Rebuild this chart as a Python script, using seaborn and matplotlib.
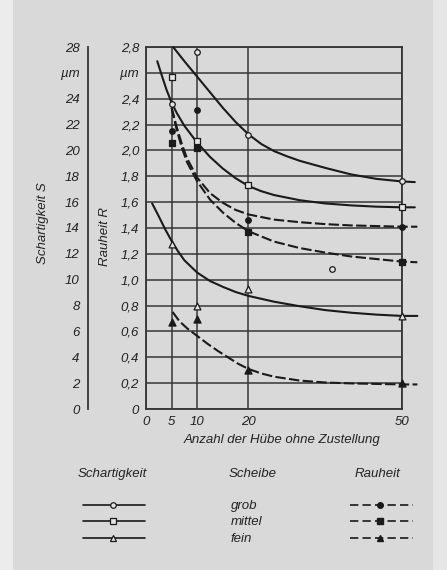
import numpy as np
import pandas as pd
import matplotlib
matplotlib.use("Agg")
import matplotlib.pyplot as plt
import seaborn as sns
from matplotlib.patches import Rectangle

# ---------------- data ----------------
# Schartigkeit S (µm) – fitted curves
s_grob_x = [5.3, 7.5, 10, 12.5, 15, 17.5, 20, 22.5, 25, 27.5, 30, 35, 40, 45, 50, 52.5]
s_grob_y = [28.0, 26.9, 25.7, 24.5, 23.3, 22.2, 21.25, 20.5, 19.95, 19.55, 19.2,
            18.65, 18.15, 17.8, 17.6, 17.55]
s_mittel_x = [2.2, 3, 4, 5, 6, 7.5, 10, 12.5, 15, 17.5, 20, 22.5, 25, 30, 35, 40, 45, 50, 52.5]
s_mittel_y = [26.9, 25.9, 24.7, 23.7, 22.9, 21.9, 20.6, 19.5, 18.6, 17.85, 17.25,
              16.85, 16.55, 16.15, 15.9, 15.75, 15.65, 15.6, 15.6]
s_fein_x = [1.2, 2.5, 3.75, 5, 6.25, 7.5, 10, 12.5, 15, 17.5, 20, 25, 30, 35, 40, 45, 50, 53]
s_fein_y = [15.9, 14.9, 13.9, 13.0, 12.2, 11.5, 10.55, 9.9, 9.45, 9.05, 8.75, 8.3,
            7.95, 7.65, 7.45, 7.3, 7.2, 7.2]

# Schartigkeit S – measured points
s_grob_px = [5, 10, 20, 36.4, 50]
s_grob_py = [23.6, 27.6, 21.2, 10.8, 17.6]
s_mittel_px = [5, 10, 20, 50]
s_mittel_py = [25.7, 20.7, 17.3, 15.65]
s_fein_px = [5, 10, 20, 50]
s_fein_py = [12.75, 8.0, 9.3, 7.2]

# Rauheit R (µm) – fitted curves
r_grob_x = [5, 6, 7, 8, 10, 12.5, 15, 17.5, 20, 25, 30, 35, 40, 50, 53]
r_grob_y = [2.33, 2.18, 2.05, 1.94, 1.79, 1.67, 1.595, 1.54, 1.505, 1.465, 1.445,
            1.43, 1.42, 1.41, 1.41]
r_mittel_x = [5, 6, 7, 8, 10, 12.5, 15, 17.5, 20, 25, 30, 35, 40, 45, 50, 53]
r_mittel_y = [2.33, 2.16, 2.02, 1.91, 1.76, 1.62, 1.52, 1.44, 1.375, 1.295, 1.245,
              1.21, 1.18, 1.16, 1.14, 1.135]
r_fein_x = [5.2, 6.5, 8, 10, 12, 14, 16, 18, 20, 22.5, 25, 30, 35, 40, 50, 53]
r_fein_y = [0.75, 0.68, 0.625, 0.565, 0.505, 0.45, 0.40, 0.35, 0.31, 0.275, 0.25,
            0.22, 0.205, 0.198, 0.19, 0.19]

# Rauheit R – measured points
r_grob_px = [5, 10, 20, 50]
r_grob_py = [2.15, 2.31, 1.46, 1.41]
r_mittel_px = [5, 10, 20, 50]
r_mittel_py = [2.06, 2.02, 1.37, 1.14]
r_fein_px = [5, 10, 20, 50]
r_fein_py = [0.675, 0.70, 0.30, 0.20]

x_ticks = [0, 5, 10, 20, 50]
r_ticks = [round(0.2 * i, 1) for i in range(15)]
r_ticklabels = ["0", "0,2", "0,4", "0,6", "0,8", "1,0", "1,2", "1,4", "1,6",
                "1,8", "2,0", "2,2", "2,4", "µm", "2,8"]
s_ticks = list(range(0, 29, 2))
s_ticklabels = ["0", "2", "4", "6", "8", "10", "12", "14", "16", "18", "20",
                "22", "24", "µm", "28"]
legend_rows = ["grob", "mittel", "fein"]

# ---------------- style ----------------
sns.set_style("white")
plt.rcParams["font.family"] = ["Liberation Sans", "DejaVu Sans"]
plt.rcParams["font.style"] = "italic"
TXT = "#222222"
INK = "#1a1a1a"
GRID = "#363636"
BG = "#d9d9d9"
FS = 9.5

W, H = 447, 570
fig = plt.figure(figsize=(W / 100, H / 100), dpi=100, facecolor=BG)

# background decoration (light scan margins)
bgax = fig.add_axes([0, 0, 1, 1], zorder=-10)
bgax.set_xlim(0, W)
bgax.set_ylim(H, 0)
bgax.axis("off")
bgax.add_patch(Rectangle((0, 0), 13, H, color="#ececec", lw=0))
bgax.add_patch(Rectangle((433, 0), 14, H, color="#e6e6e6", lw=0))

L, R_, B, T = 146, 402, 409, 47
ax = fig.add_axes([L / W, 1 - B / H, (R_ - L) / W, (B - T) / H])
ax.set_facecolor("none")
ax.set_xlim(0, 50)
ax.set_ylim(0, 2.8)
ax.set_xticks(x_ticks)
ax.set_xticklabels([str(v) for v in x_ticks], fontsize=FS, color=TXT)
ax.set_yticks(r_ticks)
ax.set_yticklabels(r_ticklabels, fontsize=FS, color=TXT)
ax.tick_params(axis="both", length=0)
ax.tick_params(axis="y", pad=5)
ax.tick_params(axis="x", pad=5)
ax.grid(True, color=GRID, lw=1.1)
for sp in ax.spines.values():
    sp.set_visible(True)
    sp.set_color(GRID)
    sp.set_linewidth(1.3)

# twin axis for Schartigkeit data (S = 10 * R scale)
axs = ax.twinx()
axs.set_ylim(0, 28)
for sp in axs.spines.values():
    sp.set_visible(False)
axs.set_facecolor("none")

lw = 1.5
dash = (5, 1.6)

def curve(a, xs, ys, dashed):
    df = pd.DataFrame({"x": xs, "y": ys})
    sns.lineplot(data=df, x="x", y="y", ax=a, color=INK, lw=lw, sort=False,
                 estimator=None, legend=False)
    line = a.lines[-1]
    line.set_clip_on(False)
    line.set_solid_joinstyle("round")
    if dashed:
        line.set_dashes(dash)

curve(axs, s_grob_x, s_grob_y, False)
curve(axs, s_mittel_x, s_mittel_y, False)
curve(axs, s_fein_x, s_fein_y, False)
curve(ax, r_grob_x, r_grob_y, True)
curve(ax, r_mittel_x, r_mittel_y, True)
curve(ax, r_fein_x, r_fein_y, True)

def pts(a, xs, ys, marker, filled, size):
    df = pd.DataFrame({"x": xs, "y": ys})
    sns.scatterplot(data=df, x="x", y="y", ax=a, marker=marker, s=size,
                    facecolor=(INK if filled else "#e4e4e4"),
                    edgecolor=INK, linewidth=0.9, zorder=5, clip_on=False,
                    legend=False)

pts(axs, s_grob_px, s_grob_py, "o", False, 16)
pts(axs, s_mittel_px, s_mittel_py, "s", False, 16)
pts(axs, s_fein_px, s_fein_py, "^", False, 24)
pts(ax, r_grob_px, r_grob_py, "o", True, 16)
pts(ax, r_mittel_px, r_mittel_py, "s", True, 16)
pts(ax, r_fein_px, r_fein_py, "^", True, 26)
for a in (ax, axs):
    a.set_xlabel("")
    a.set_ylabel("")
axs.set_yticks([])

# separate Schartigkeit scale
sx = 88
axS = fig.add_axes([sx / W, 1 - B / H, 0.0001, (B - T) / H])
axS.set_facecolor("none")
axS.set_ylim(0, 28)
axS.set_yticks(s_ticks)
axS.set_yticklabels(s_ticklabels, fontsize=FS, color=TXT)
axS.set_xticks([])
for k, sp in axS.spines.items():
    sp.set_visible(k == "left")
axS.spines["left"].set_color(GRID)
axS.spines["left"].set_linewidth(1.3)
axS.tick_params(axis="y", direction="in", length=4, width=1.1, color=GRID, pad=6)

# axis titles
fig.text(43 / W, 1 - 223 / H, "Schartigkeit S", rotation=90, ha="center",
         va="center", fontsize=FS, color=TXT)
fig.text(105 / W, 1 - 237 / H, "Rauheit R", rotation=90, ha="center",
         va="center", fontsize=FS, color=TXT)
fig.text(282 / W, 1 - 440 / H, "Anzahl der Hübe ohne Zustellung", ha="center",
         va="center", fontsize=FS, color=TXT)

# legend block
leg = fig.add_axes([0, 0, 1, 1], facecolor="none")
leg.set_xlim(0, W)
leg.set_ylim(H, 0)
leg.axis("off")
leg.text(112, 474, "Schartigkeit", ha="center", va="center", fontsize=FS, color=TXT)
leg.text(253, 474, "Scheibe", ha="center", va="center", fontsize=FS, color=TXT)
leg.text(377, 474, "Rauheit", ha="center", va="center", fontsize=FS, color=TXT)
row_y = [505, 521, 538]
s_marks = ["o", "s", "^"]
for i, (name, yy) in enumerate(zip(legend_rows, row_y)):
    leg.text(231, yy + 1, name, ha="left", va="center", fontsize=FS, color=TXT)
    leg.plot([83, 145], [yy, yy], color=INK, lw=1.2)
    leg.plot([113], [yy], marker=s_marks[i], ms=4 if i < 2 else 5, mfc="#e4e4e4",
             mec=INK, mew=0.9, ls="none")
    leg.plot([350, 413], [yy, yy], color=INK, lw=1.2, dashes=(5, 2.5))
    leg.plot([380], [yy], marker=s_marks[i], ms=4 if i < 2 else 5, mfc=INK,
             mec=INK, ls="none")

fig.savefig("out.png", dpi=100, facecolor=BG)
